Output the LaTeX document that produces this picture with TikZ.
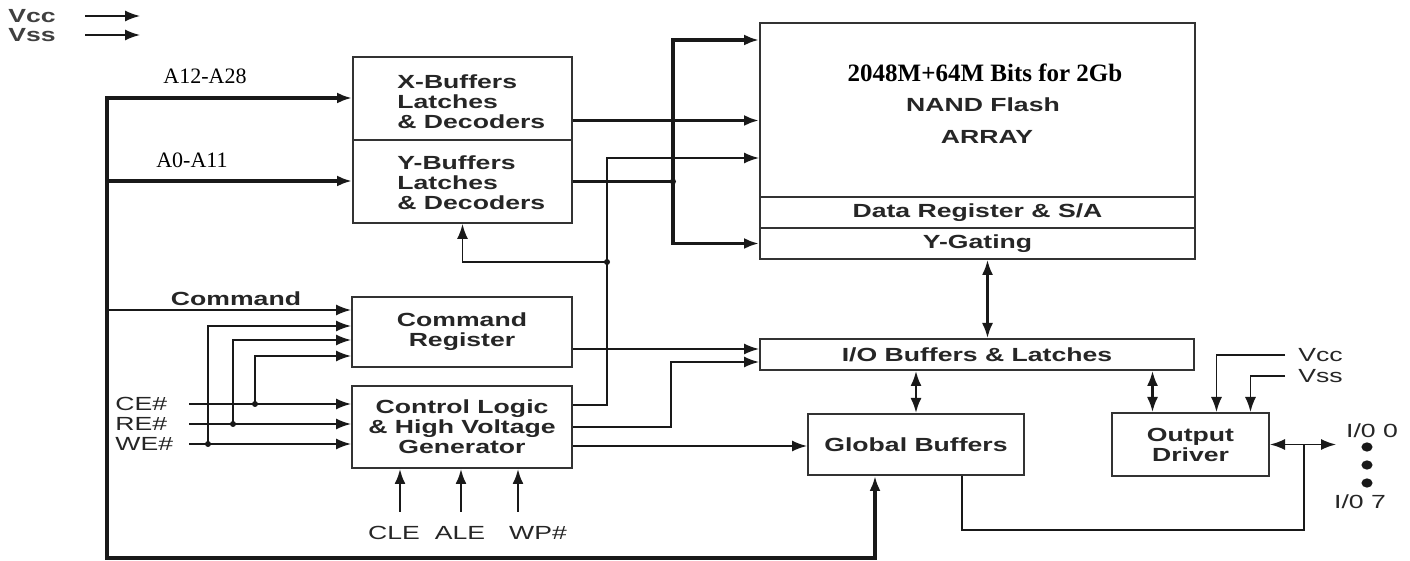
\documentclass[tikz,border=0pt]{standalone}
\usepackage{fontspec}
\usepackage{tikz}
\usetikzlibrary{arrows.meta}
\newfontfamily\widesans[FakeStretch=1.4]{Liberation Sans}
\newfontfamily\flashserif{Liberation Serif}
\newcommand\blkfont{\widesans\bfseries\fontsize{9.5}{10}\selectfont}
\newcommand\sigfont{\widesans\fontsize{9.5}{10}\selectfont}
\newcommand\addrfont{\flashserif\fontsize{11}{12}\selectfont}
\newcommand\ttlfont{\flashserif\bfseries\fontsize{12.5}{14}\selectfont}

\tikzset{
  blk/.style={draw=black!80, line width=1pt, inner sep=0pt, align=center,
              text=black!85, font=\blkfont},
  btxt/.style={inner sep=0pt, align=center, text=black!85, font=\blkfont},
  sig/.style={inner sep=2pt, text=black!85, font=\sigfont},
  addr/.style={inner sep=0pt, font=\addrfont},
  wire/.style={draw=black!90, line width=0.8pt},
  thk/.style={line width=1.6pt},
  med/.style={line width=1.1pt},
  onearr/.style={-{Latex[length=7.5pt,width=5.5pt]}},
  twoarr/.style={{Latex[length=7.5pt,width=5.5pt]}-{Latex[length=7.5pt,width=5.5pt]}},
  jdot/.style={circle, fill=black!90, inner sep=0pt, minimum size=3pt}
}

\begin{document}
\begin{tikzpicture}[x=0.5pt, y=-0.5pt]
  \fill[white] (0,0) rectangle (1410,561);
  \useasboundingbox (0,0) rectangle (1410,561);

  % supply legend
  \node[btxt, anchor=west, text=black!75] (vcctop) at (8,16) {Vcc};
  \node[btxt, anchor=west, text=black!75] (vsstop) at (8,35) {Vss};
  \draw[wire, onearr] (vcctop.east -| 85,0) -- (vcctop.east -| 140,0);
  \draw[wire, onearr] (vsstop.east -| 85,0) -- (vsstop.east -| 140,0);

  % blocks
  \node[blk, minimum width=109.5pt, minimum height=41.5pt] (xbuf) at (462.5,98.5) {};
  \node[blk, minimum width=109.5pt, minimum height=41.5pt] (ybuf) at (462.5,181.5) {};
  \node[btxt, anchor=west, align=left] (xtxt) at (397,102) {X-Buffers\\Latches\\\& Decoders};
  \node[btxt, anchor=west, align=left] (ytxt) at (397,183) {Y-Buffers\\Latches\\\& Decoders};

  \node[blk, minimum width=217.5pt, minimum height=87pt] (flash) at (977.5,110) {};
  \node[blk, minimum width=217.5pt, minimum height=15.5pt] (dreg) at (977.5,212.5) {Data Register \& S/A};
  \node[blk, minimum width=217.5pt, minimum height=15.5pt] (ygat) at (977.5,243.5) {Y-Gating};
  \node[inner sep=0pt, font=\ttlfont] (ttl) at (985,73) {2048M+64M Bits for 2Gb};
  \node[btxt] (nand) at (983,105) {NAND Flash};
  \node[btxt] (arrtxt) at (987,137) {ARRAY};

  \node[blk, minimum width=110pt, minimum height=35pt] (cr) at (462,332) {Command\\Register};
  \node[blk, minimum width=110pt, minimum height=41pt] (cl) at (462,427) {Control Logic\\\& High Voltage\\Generator};
  \node[blk, minimum width=217pt, minimum height=15.5pt] (io) at (977,354.5) {I/O Buffers \& Latches};
  \node[blk, minimum width=108pt, minimum height=30.5pt] (gb) at (916,444.5) {Global Buffers};
  \node[blk, minimum width=78.5pt, minimum height=31.5pt] (od) at (1190.5,444.5) {Output\\Driver};

  % address / command bus
  \node[addr] (a12) at (205,76) {A12-A28};
  \node[addr] (a0) at (192,160) {A0-A11};
  \node[btxt] (cmdlbl) at (236,299) {Command};
  \coordinate (bustop) at (107,98);
  \coordinate (busmid) at (107,181);
  \coordinate (buscmd) at (107,310);
  \coordinate (busbot) at (107,558);
  \coordinate (gbin) at (875,558);
  \draw[wire, thk, twoarr] (bustop -| xbuf.west) -- (bustop) -- (busbot) -- (gbin) -- (gbin |- gb.south);
  \draw[wire, thk, onearr] (busmid) -- (busmid -| ybuf.west);
  \draw[wire, onearr] (buscmd) -- (buscmd -| cr.west);

  % control pins
  \node[sig, anchor=west] (ce) at (111,404) {CE\#};
  \node[sig, anchor=west] (re) at (111,424) {RE\#};
  \node[sig, anchor=west] (we) at (111,444) {WE\#};
  \coordinate (sigx) at (189,0);
  \foreach \p in {ce,re,we}
    \draw[wire, onearr] (\p -| sigx) -- (\p -| cl.west);
  \coordinate (j1) at (208,444);
  \coordinate (j2) at (233,424);
  \coordinate (j3) at (255,404);
  \draw[wire, onearr] (j1) |- ([yshift=3pt]cr.west);
  \draw[wire, onearr] (j2) |- ([yshift=-4pt]cr.west);
  \draw[wire, onearr] (j3) |- ([yshift=-12pt]cr.west);
  \foreach \j in {j1,j2,j3} \node[jdot] at (\j) {};

  \node[sig] (cle) at (394,533) {CLE};
  \node[sig] (ale) at (460,533) {ALE};
  \node[sig] (wp) at (538,533) {WP\#};
  \foreach \x in {400,461,518}
    \draw[wire, med, onearr] (\x,512) -- (cl.south -| \x,0);

  % array side
  \coordinate (xout) at ([yshift=-11pt]xbuf.east);
  \draw[wire, thk, onearr] (xout) -- (xout -| flash.west);
  \coordinate (ybus) at (ybuf.east -| 673,0);
  \draw[wire, thk] (ybuf.east) -- (ybus);
  \coordinate (topin) at ([yshift=35pt]flash.west);
  \draw[wire, thk, twoarr] (topin) -| (ybus) |- (ygat.west);
  \node[jdot] at (ybus) {};

  \coordinate (clo1) at ([yshift=11pt]cl.east);
  \coordinate (tap) at (607,262);
  \draw[wire, onearr] (clo1) -| (tap) |- ([yshift=-24pt]flash.west);
  \draw[wire, onearr] (tap) -| (ybuf.south);
  \node[jdot] at (tap) {};

  \coordinate (cro) at ([yshift=-8.5pt]cr.east);
  \draw[wire, onearr] (cro) -- (cro -| io.west);
  \draw[wire, onearr] (cl.east) -| ([xshift=-44pt,yshift=-3.75pt]io.west) -- ([yshift=-3.75pt]io.west);
  \coordinate (clo3) at ([yshift=-9.5pt]cl.east);
  \draw[wire, onearr] (clo3) -- (clo3 -| gb.west);

  % data path
  \coordinate (yg) at ([xshift=5pt]ygat.south);
  \draw[wire, med, twoarr] (yg) -- (yg |- io.north);
  \draw[wire, med, twoarr] (io.south -| gb.north) -- (gb.north);
  \coordinate (odn) at ([xshift=-19pt]od.north);
  \draw[wire, med, twoarr] (odn |- io.south) -- (odn);

  \node[sig, anchor=west] (vccr) at (1294,355) {Vcc};
  \node[sig, anchor=west] (vssr) at (1294,376) {Vss};
  \draw[wire, onearr] ([xshift=-4.5pt]vccr.west) -| ([xshift=13pt]od.north);
  \draw[wire, onearr] ([xshift=-4.5pt]vssr.west) -| ([xshift=30pt]od.north);

  \coordinate (iopin) at ([xshift=33pt]od.east);
  \draw[wire, twoarr] (od.east) -- (iopin);
  \coordinate (oj) at ([xshift=17pt]od.east);
  \draw[wire] ([xshift=23pt]gb.south) -- ++(0pt,-27pt) -| (oj);

  \node[sig] (io0) at (1372,431) {I/0 0};
  \node[sig] (io7) at (1360,502) {I/0 7};
  \foreach \y in {447,465,483}
    \fill[black!90] (1367,\y) ellipse (2.8pt and 2.3pt);
\end{tikzpicture}
\end{document}
